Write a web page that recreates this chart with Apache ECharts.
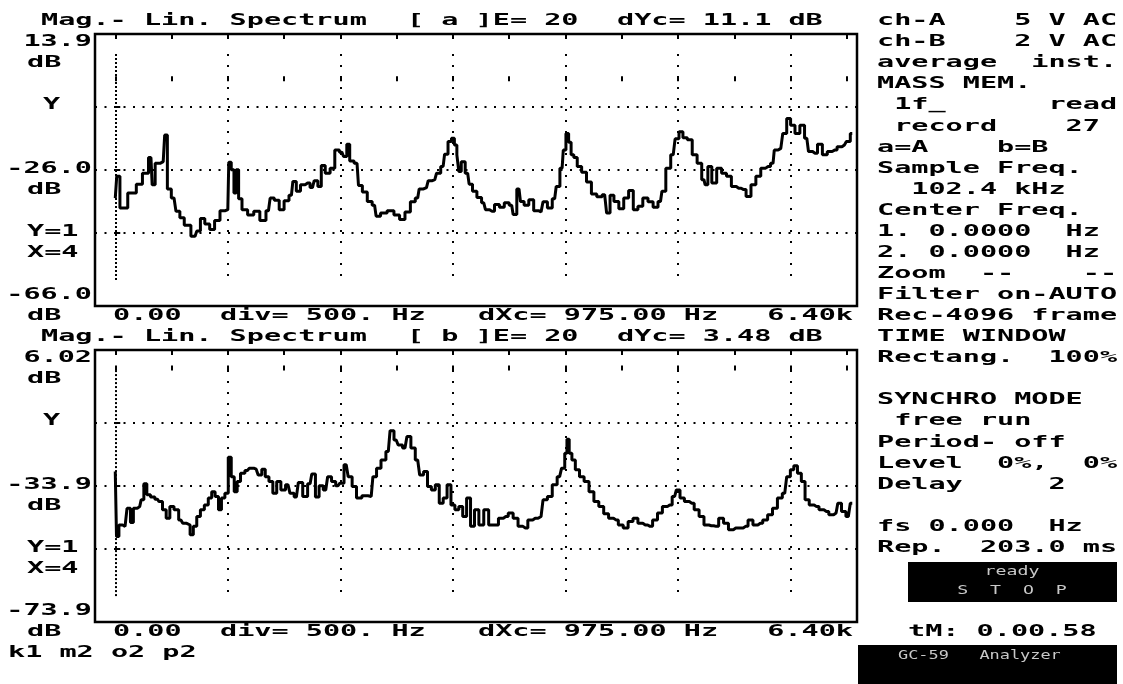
<!DOCTYPE html>
<html>
<head>
<meta charset="utf-8">
<script src="https://cdn.jsdelivr.net/npm/echarts@6/dist/echarts.min.js"></script>
<style>
  html, body { margin: 0; padding: 0; background: #fff; }
  #chart { width: 1123px; height: 684px; }
</style>
</head>
<body>
<div id="chart"></div>
<script>
// channel a trace (Hz, dB)
const freqA = [
  0,26,57,165,209,274,317,339,370,426,
  452,474,522,557,591,635,709,739,774,817,
  861,904,957,1000,1017,1044,1065,1083,1109,1143,
  1209,1252,1317,1361,1391,1435,1478,1522,1565,1591,
  1626,1665,1709,1752,1783,1817,1844,1887,1931,1970,
  2013,2044,2070,2096,2148,2174,2217,2261,2304,2331,
  2383,2448,2504,2548,2600,2644,2687,2713,2765,2796,
  2839,2870,2913,2939,2974,3000,3026,3044,3061,3087,
  3131,3157,3191,3235,3274,3304,3348,3391,3435,3478,
  3522,3548,3587,3613,3652,3696,3739,3783,3818,3861,
  3904,3931,3970,3991,4017,4039,4061,4087,4122,4165,
  4209,4252,4304,4348,4383,4409,4452,4496,4539,4583,
  4622,4665,4709,4757,4800,4844,4870,4913,4957,4991,
  5026,5061,5104,5148,5191,5230,5252,5278,5322,5365,
  5409,5452,5496,5539,5583,5626,5670,5713,5757,5800,
  5844,5866,5913,5948,5983,6017,6061,6104,6144,6174,
  6217,6261,6304,6348,6391,6435,6478,6513,6548
];
const magA = [
  -34.3,-27.9,-37.2,-32.8,-30.2,-27.0,-22.4,-30.4,-24.1,-23.6,
  -15.8,-31.6,-34.3,-38.2,-40.1,-42.3,-45.5,-44.0,-40.3,-41.9,
  -43.5,-40.9,-38.0,-37.7,-23.8,-26.0,-32.8,-26.0,-34.5,-37.7,
  -39.3,-38.2,-40.9,-38.0,-34.3,-34.9,-37.7,-35.1,-33.5,-29.4,
  -32.3,-30.4,-29.9,-31.2,-29.2,-30.9,-24.7,-27.0,-25.5,-20.2,
  -20.8,-22.1,-18.5,-23.4,-24.1,-30.6,-32.5,-35.3,-36.4,-39.6,
  -38.7,-38.0,-39.3,-40.6,-38.4,-35.4,-34.3,-31.6,-31.2,-29.2,
  -28.9,-27.0,-25.0,-21.4,-17.7,-16.7,-18.7,-21.6,-26.5,-23.6,
  -27.0,-30.2,-32.3,-34.1,-35.7,-37.7,-38.2,-36.2,-37.0,-35.7,
  -36.4,-39.1,-31.6,-35.3,-36.4,-34.8,-38.0,-38.4,-35.4,-37.2,
  -34.5,-30.9,-25.5,-20.2,-15.3,-17.9,-21.6,-22.4,-25.0,-26.7,
  -29.6,-33.1,-33.9,-33.3,-38.7,-33.5,-35.3,-37.4,-34.3,-32.1,
  -37.7,-36.7,-34.3,-35.4,-37.0,-35.3,-32.3,-25.5,-21.6,-16.9,
  -14.8,-16.6,-17.2,-21.6,-24.1,-28.9,-30.4,-25.0,-29.9,-25.5,
  -27.0,-27.9,-30.9,-31.4,-31.8,-33.8,-30.4,-27.9,-25.5,-25.0,
  -24.1,-20.2,-19.7,-15.3,-10.9,-12.9,-15.3,-12.9,-16.7,-20.6,
  -21.1,-18.5,-21.6,-20.6,-20.2,-19.2,-18.7,-17.7,-15.3
];
// channel b trace (Hz, dB)
const freqB = [
  0,22,43,87,122,148,174,217,243,265,
  296,330,374,404,435,470,500,544,583,617,
  652,678,709,739,774,809,844,870,904,930,
  957,991,1017,1044,1070,1096,1130,1174,1209,1252,
  1287,1317,1348,1383,1417,1452,1491,1535,1570,1609,
  1644,1687,1731,1761,1796,1826,1870,1904,1939,1978,
  2013,2052,2087,2122,2165,2217,2274,2304,2339,2383,
  2426,2457,2496,2531,2574,2609,2644,2687,2722,2757,
  2791,2826,2861,2896,2931,2965,3000,3035,3070,3104,
  3139,3174,3209,3252,3296,3339,3383,3426,3470,3513,
  3557,3600,3644,3687,3731,3783,3818,3861,3904,3948,
  3983,4004,4022,4044,4070,4105,4144,4187,4231,4274,
  4318,4361,4405,4448,4491,4535,4578,4622,4665,4709,
  4752,4796,4839,4883,4926,4970,5000,5035,5078,5122,
  5165,5209,5252,5296,5339,5383,5426,5470,5513,5557,
  5600,5644,5687,5731,5774,5818,5861,5905,5948,5983,
  6013,6044,6078,6113,6144,6187,6231,6274,6318,6361,
  6404,6435,6470,6513,6548
];
const magB = [
  -29.7,-48.8,-45.4,-45.8,-40.5,-44.7,-40.5,-40.0,-38.0,-33.3,
  -36.5,-37.2,-37.8,-38.5,-40.9,-43.4,-40.0,-40.9,-43.9,-44.9,
  -45.4,-48.3,-45.8,-42.9,-40.9,-39.5,-37.5,-35.6,-37.0,-40.9,
  -37.5,-36.1,-25.5,-31.2,-35.6,-32.6,-30.2,-29.4,-28.7,-29.0,
  -30.7,-29.0,-31.2,-32.6,-36.1,-32.6,-35.1,-33.6,-36.1,-37.2,
  -32.9,-37.0,-33.3,-30.4,-37.2,-33.9,-35.1,-31.2,-32.6,-33.9,
  -33.1,-27.7,-31.2,-34.1,-37.5,-36.8,-37.0,-31.2,-28.7,-26.3,
  -23.8,-17.7,-20.4,-21.9,-22.8,-19.4,-22.8,-26.3,-30.7,-29.7,
  -34.1,-35.1,-33.6,-39.0,-37.5,-33.6,-39.5,-40.9,-40.0,-42.9,
  -37.5,-45.8,-40.9,-45.4,-40.9,-45.4,-45.4,-43.4,-42.9,-41.9,
  -43.4,-45.8,-46.3,-43.9,-43.4,-42.9,-38.0,-37.0,-33.6,-31.2,
  -28.7,-24.3,-20.2,-24.3,-26.3,-29.2,-31.2,-32.6,-35.6,-38.5,
  -40.0,-42.1,-43.4,-43.9,-45.4,-46.3,-44.4,-43.4,-44.9,-45.4,
  -45.8,-43.9,-41.9,-40.0,-39.5,-37.0,-35.1,-37.5,-38.5,-39.0,
  -40.9,-42.9,-45.4,-45.6,-45.8,-43.4,-44.9,-46.8,-46.3,-46.3,
  -45.8,-43.9,-45.4,-44.9,-43.9,-42.4,-40.5,-37.5,-36.1,-31.2,
  -29.2,-28.0,-30.2,-32.6,-38.0,-39.5,-40.0,-40.9,-41.4,-42.4,
  -41.9,-39.0,-41.4,-42.9,-39.0
];

// axis scales
const yRangeA = [-66.0, 13.9];
const yRangeB = [-73.9, 6.02];
const levelsA = [-7.6, -26.05, -44.4];   // Y, centre, Y=1 lines
const levelsB = [-15.5, -33.9, -52.3];
const divFreqs = [1000, 2000, 3000, 4000, 5000, 6000];
const tickFreqs = [0,500,1000,1500,2000,2500,3000,3500,4000,4500,5000,5500,6000,6500];
const xRange = [-180, 6590];

// screen texts
const titleA = ['Mag.- Lin. Spectrum', '[ a ]E= 20', 'dYc= 11.1 dB'];
const titleB = ['Mag.- Lin. Spectrum', '[ b ]E= 20', 'dYc= 3.48 dB'];
const yLabelsA = ['13.9', '-26.0', '-66.0'];
const yLabelsB = ['6.02', '-33.9', '-73.9'];
const xLabels = ['0.00', 'div= 500. Hz', 'dXc= 975.00 Hz', '6.40k'];
const sideText = [
  'ch-A    5 V AC', 'ch-B    2 V AC', 'average  inst.', 'MASS MEM.',
  ' 1f_      read', ' record    27', 'a=A    b=B', 'Sample Freq.',
  '  102.4 kHz', 'Center Freq.', '1. 0.0000  Hz', '2. 0.0000  Hz',
  'Zoom  --    --', 'Filter on-AUTO', 'Rec-4096 frame', 'TIME WINDOW',
  'Rectang.  100%', '', 'SYNCHRO MODE', ' free run',
  'Period- off', 'Level  0%,  0%', 'Delay     2', '',
  'fs 0.000  Hz', 'Rep.  203.0 ms'
];

const FONT = 'bold 16px "DejaVu Sans Mono"';
const SX = 1.78;
const rowY = r => 21 + 21.07 * r;

function txt(x, row, s, align) {
  return {
    type: 'text', x: x, y: rowY(row), scaleX: SX, z: 10,
    style: { text: s, font: FONT, fill: '#000', align: align || 'left', verticalAlign: 'middle' }
  };
}

function panelTexts(r0, title, ylab) {
  return [
    txt(41, r0, title[0]), txt(407, r0, title[1]), txt(617, r0, title[2]),
    txt(92, r0 + 1, ylab[0], 'right'), txt(27, r0 + 2, 'dB'),
    txt(43, r0 + 4, 'Y'),
    txt(92, r0 + 7, ylab[1], 'right'), txt(27, r0 + 8, 'dB'),
    txt(27, r0 + 10, 'Y=1'), txt(27, r0 + 11, 'X=4'),
    txt(92, r0 + 13, ylab[2], 'right'), txt(27, r0 + 14, 'dB'),
    txt(113, r0 + 14, xLabels[0]), txt(220, r0 + 14, xLabels[1]),
    txt(478, r0 + 14, xLabels[2]), txt(853, r0 + 14, xLabels[3], 'right')
  ];
}

const boxFont = '13px "DejaVu Sans Mono"';
const graphics = []
  .concat(panelTexts(0, titleA, yLabelsA))
  .concat(panelTexts(15, titleB, yLabelsB))
  .concat(sideText.map((s, i) => txt(877, i, s)))
  .concat([
    txt(908, 29, 'tM: 0.00.58'),
    txt(8, 30, 'k1 m2 o2 p2'),
    { type: 'rect', shape: { x: 908, y: 562, width: 209, height: 40 }, style: { fill: '#000' } },
    { type: 'text', x: 1012, y: 572, z: 11, scaleX: 1.4, style: { text: 'ready', font: boxFont, fill: '#c8c8c8', align: 'center', verticalAlign: 'middle' } },
    { type: 'text', x: 1012, y: 591, z: 11, scaleX: 1.4, style: { text: 'S  T  O  P', font: boxFont, fill: '#c8c8c8', align: 'center', verticalAlign: 'middle' } },
    { type: 'rect', shape: { x: 858, y: 645, width: 259, height: 39 }, style: { fill: '#000' } },
    { type: 'text', x: 898, y: 656, z: 11, scaleX: 1.3, style: { text: 'GC-59   Analyzer', font: boxFont, fill: '#c8c8c8', align: 'left', verticalAlign: 'middle' } }
  ]);

function makeGrid(top) {
  return { left: 95, top: top, width: 762, height: 272, show: true, borderColor: '#000', borderWidth: 2.5, backgroundColor: 'transparent' };
}
const tickStyle = { show: true, inside: true, length: 5, lineStyle: { color: '#000', width: 2 } };
function makeX(gi, pos) {
  return {
    type: 'value', gridIndex: gi, position: pos, min: xRange[0], max: xRange[1],
    axisLine: { show: false }, splitLine: { show: false }, axisLabel: { show: false },
    axisTick: Object.assign({ customValues: tickFreqs }, tickStyle)
  };
}
function makeY(gi, range, levels) {
  return {
    type: 'value', gridIndex: gi, min: range[0], max: range[1],
    axisLine: { show: false }, splitLine: { show: false }, axisLabel: { show: false },
    axisTick: Object.assign({ customValues: [range[0]].concat(levels, [range[1]]) }, tickStyle)
  };
}
function dotLines(range, levels) {
  const top = range[1] - 5.9, bot = range[0] + 7.3;
  const lines = levels.map(v => ({ yAxis: v, lineStyle: { type: [2, 7.5] } }));
  lines.push([{ coord: [0, top], lineStyle: { type: [2, 2] } }, { coord: [0, bot] }]);
  divFreqs.forEach(f => lines.push([{ coord: [f, top] }, { coord: [f, bot] }]));
  return {
    silent: true, symbol: 'none', label: { show: false },
    lineStyle: { color: '#000', width: 2, type: [2, 9] },
    emphasis: { disabled: true },
    data: lines
  };
}
function trace(gi, fs, ms, range, levels) {
  return {
    type: 'line', xAxisIndex: gi * 2, yAxisIndex: gi, step: 'middle',
    showSymbol: false, symbol: 'none', silent: true,
    lineStyle: { color: '#000', width: 3 },
    data: fs.map((f, i) => [f, ms[i]]),
    markLine: dotLines(range, levels)
  };
}

const chart = echarts.init(document.getElementById('chart'));
chart.setOption({
  animation: false,
  backgroundColor: '#fff',
  grid: [makeGrid(34), makeGrid(350)],
  xAxis: [makeX(0, 'bottom'), makeX(0, 'top'), makeX(1, 'bottom'), makeX(1, 'top')],
  yAxis: [makeY(0, yRangeA, levelsA), makeY(1, yRangeB, levelsB)],
  series: [
    trace(0, freqA, magA, yRangeA, levelsA),
    trace(1, freqB, magB, yRangeB, levelsB)
  ],
  graphic: graphics
});
</script>
</body>
</html>
